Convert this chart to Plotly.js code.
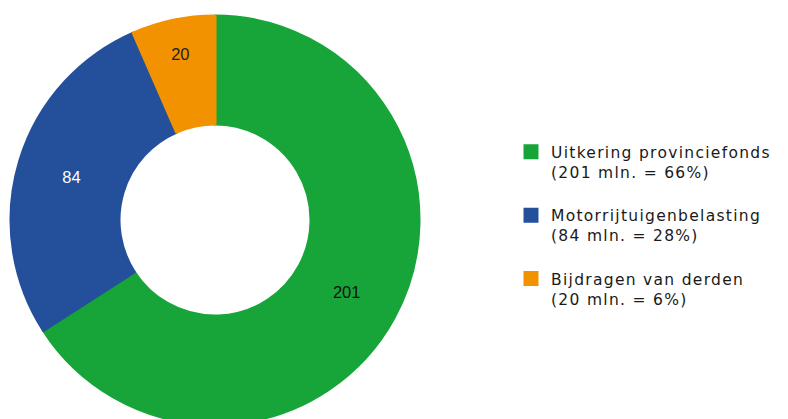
<!DOCTYPE html>
<html>
<head>
<meta charset="utf-8">
<script src="https://cdn.plot.ly/plotly-3.0.1.min.js"></script>
<style>
  html, body { margin: 0; padding: 0; overflow: hidden; background: #fff; }
  #chart { width: 788px; height: 440px; }
  .legendtext { letter-spacing: 1.3px; }
</style>
</head>
<body>
<div id="chart"></div>
<script>
// Data
const categories = ['Uitkering provinciefonds', 'Motorrijtuigenbelasting', 'Bijdragen van derden'];
const values = [201, 84, 20];
const percentages = [66, 28, 6];
const unit = 'mln.';

const sliceColors = ['#17a539', '#24509b', '#f39200'];
const labelColors = ['#111111', '#ffffff', '#222222'];

const legendLabels = categories.map((c, i) =>
  c + '<br>(' + values[i] + ' ' + unit + ' = ' + percentages[i] + '%)<br>&nbsp;');

const trace = {
  type: 'pie',
  labels: legendLabels,
  values: values,
  text: values.map(String),
  textinfo: 'text',
  textposition: 'inside',
  insidetextorientation: 'horizontal',
  sort: false,
  direction: 'clockwise',
  rotation: 0,
  hole: 0.4706,
  marker: { colors: sliceColors, line: { color: sliceColors, width: 3 } },
  textfont: { family: 'Liberation Sans, Arial, sans-serif', size: 16.5, color: labelColors },
  domain: { x: [0, 408 / 777], y: [0, 1] },
  hoverinfo: 'label+value'
};

const layout = {
  width: 788,
  height: 440,
  margin: { l: 11, r: 0, t: 16, b: 16 },
  paper_bgcolor: '#ffffff',
  showlegend: true,
  legend: {
    x: 0.6435,
    xanchor: 'left',
    y: 0.708,
    yanchor: 'top',
    valign: 'top',
    font: { family: 'DejaVu Sans, sans-serif', size: 15.5, color: '#1a1a1a' },
    bgcolor: 'rgba(0,0,0,0)',
    borderwidth: 0
  }
};

Plotly.newPlot('chart', [trace], layout, { displayModeBar: false, staticPlot: true });
</script>
</body>
</html>
